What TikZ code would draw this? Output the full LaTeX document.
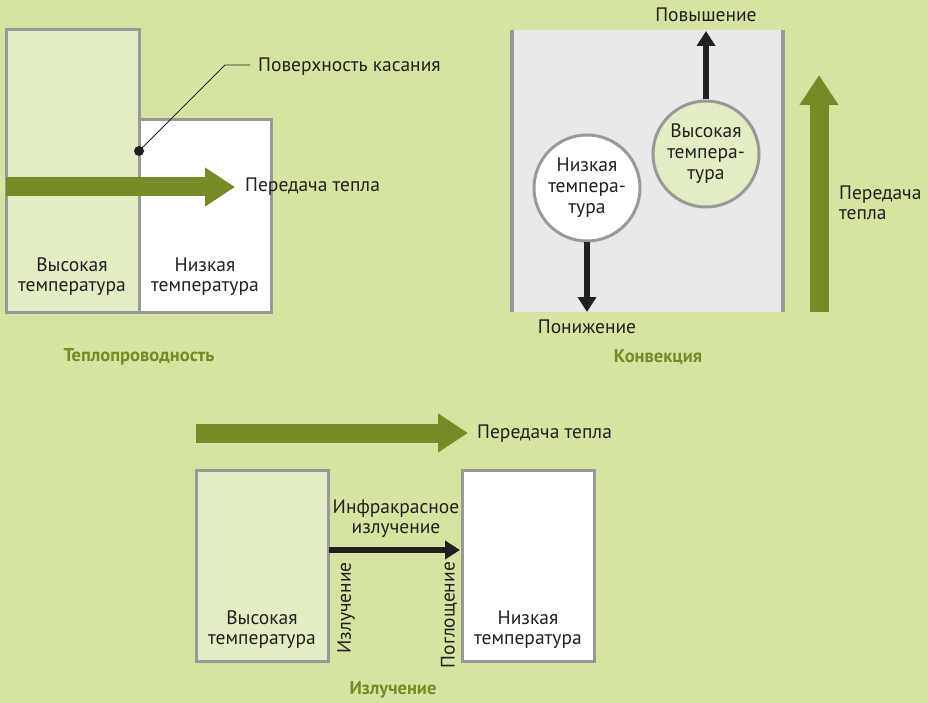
\documentclass[tikz,border=0pt]{standalone}
\usepackage{fontspec}
\setmainfont{PT Sans}
\usetikzlibrary{arrows.meta}
\definecolor{bg}{HTML}{D6E4A2}
\definecolor{lightg}{HTML}{E3EDC4}
\definecolor{darkg}{HTML}{758C26}
\definecolor{bordergray}{HTML}{999999}
\definecolor{convfill}{HTML}{E8E9EA}
\definecolor{ink}{HTML}{231F20}
\tikzset{
  txt/.style={inner sep=0pt, text=ink, font=\fontsize{19.5}{20}\selectfont, align=center},
  title/.style={inner sep=0pt, text=darkg, font=\bfseries\fontsize{18.5}{20}\selectfont},
  hotbox/.style={draw=bordergray, line width=3pt, fill=lightg},
  coldbox/.style={draw=bordergray, line width=3pt, fill=white},
  bubble/.style={circle, draw=bordergray, line width=3pt, minimum size=106pt, inner sep=0pt, text=ink, font=\fontsize{19.5}{21}\selectfont, align=center},
  greenarrow/.style={draw=darkg, line width=19pt, -{Triangle[width=37pt,length=30pt]}},
  blackarrow/.style={draw=ink, line width=6pt, -{Triangle[width=18pt,length=15pt]}},
}
\begin{document}
\begin{tikzpicture}[x=1pt,y=-1pt]
\useasboundingbox (0,0) rectangle (928,703);
\fill[bg] (0,0) rectangle (928,703);

% ---------- Conduction ----------
\filldraw[hotbox] (6,30) rectangle (139,312);
\filldraw[coldbox] (139,120) rectangle (271,312);
\coordinate (c1) at (6,187);
\coordinate (c2) at (235,187);
\draw[greenarrow] (c1) -- (c2);
\node[txt, anchor=west] (cheat) at (245,187) {Передача тепла};
\node[circle, fill=ink, inner sep=0pt, minimum size=10pt] (dot) at (139,151) {};
\node[txt, anchor=west] (surf) at (258,67) {Поверхность касания};
\coordinate (bend) at (225,65);
\draw[ink, line width=0.9pt] (dot.center) -- (bend) -- (250,65);
\node[txt] (chot) at (72,277) {Высокая\\температура};
\node[txt] (ccold) at (205,277) {Низкая\\температура};
\node[title] (t1) at (139,357) {Теплопроводность};

% ---------- Convection ----------
\fill[convfill] (510,30) rectangle (784,312);
\draw[bordergray, line width=4pt] (512,30) -- (512,312);
\draw[bordergray, line width=4pt] (783,30) -- (783,312);
\node[bubble, fill=lightg] (hi) at (706,154) {Высокая\\темпера-\\тура};
\node[bubble, fill=white] (lo) at (587,188) {Низкая\\темпера-\\тура};
\node[txt] (up) at (706,15) {Повышение};
\node[txt] (down) at (587,327) {Понижение};
\coordinate (uptip) at (706,31);
\coordinate (downtip) at (587,312);
\draw[blackarrow] (hi.north) -- (uptip);
\draw[blackarrow] (lo.south) -- (downtip);
\coordinate (g1) at (819,312);
\coordinate (g2) at (819,75);
\draw[greenarrow] (g1) -- (g2);
\node[txt, anchor=west, align=left] (vheat) at (839,203) {Передача\\тепла};
\node[title] (t2) at (658,357) {Конвекция};

% ---------- Radiation ----------
\coordinate (r1) at (196,433);
\coordinate (r2) at (468,433);
\draw[greenarrow] (r1) -- (r2);
\node[txt, anchor=west] (rheat) at (477,434) {Передача тепла};
\filldraw[hotbox] (196,470) rectangle (328,661);
\filldraw[coldbox] (462,470) rectangle (594,661);
\coordinate (lb) at (329,550);
\coordinate (rb) at (460,550);
\draw[blackarrow] (lb) -- (rb);
\node[txt] (ir) at (396,519) {Инфракрасное\\излучение};
\node[txt, rotate=90] (emit) at (346,608) {Излучение};
\node[txt, rotate=90] (absorb) at (449,615) {Поглощение};
\node[txt] (rhot) at (262,630) {Высокая\\температура};
\node[txt] (rcold) at (528,630) {Низкая\\температура};
\node[title] (t3) at (393,690) {Излучение};
\end{tikzpicture}
\end{document}
